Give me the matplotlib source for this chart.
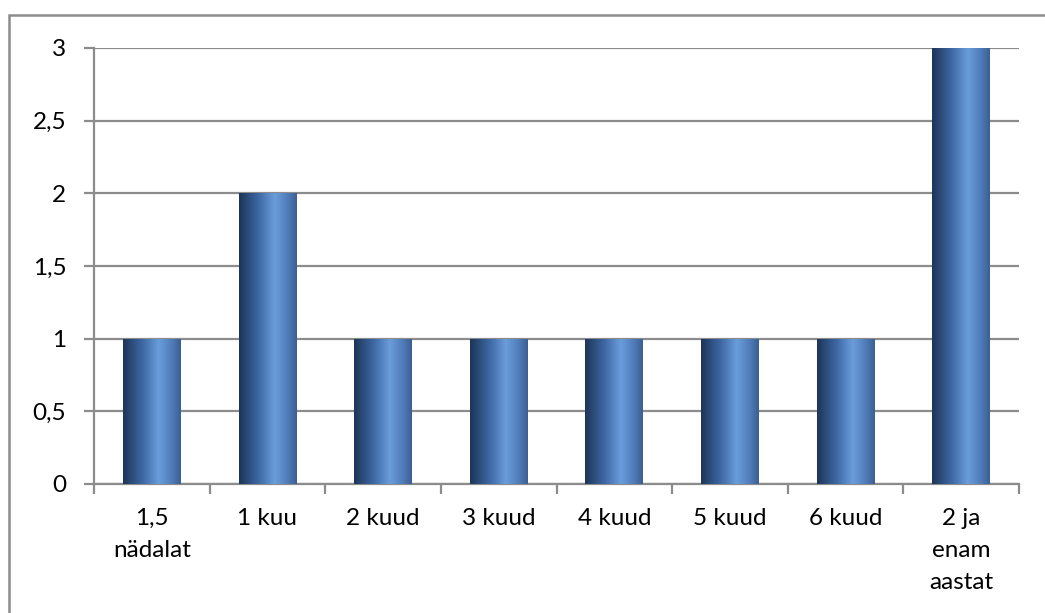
import numpy as np
import matplotlib.pyplot as plt
from matplotlib.colors import LinearSegmentedColormap
from matplotlib.patches import Rectangle

categories = ['1,5\nnädalat', '1 kuu', '2 kuud', '3 kuud', '4 kuud',
              '5 kuud', '6 kuud', '2 ja\nenam\naastat']
counts = [1, 2, 1, 1, 1, 1, 1, 3]
yticks = [0, 0.5, 1, 1.5, 2, 2.5, 3]
ytick_labels = ['0', '0,5', '1', '1,5', '2', '2,5', '3']

plt.rcParams['font.family'] = ['Lato', 'DejaVu Sans']

fig = plt.figure(figsize=(10.45, 6.13), dpi=100)
ax = fig.add_axes([94/1045, 1 - 484/613, (1019 - 94)/1045, (484 - 48)/613])

# outer chart frame (right and bottom edges fall outside the canvas)
fig.patches.append(Rectangle((9/1045, -0.05), 1.1, 1 - 15/613 + 0.05,
                             transform=fig.transFigure, fill=False,
                             edgecolor='#8c8c8c', linewidth=1.8))

x = np.arange(len(categories))
bars = ax.bar(x, counts, width=0.5, color='none', edgecolor='none', zorder=3)

# cylinder-like horizontal shading for each bar
shade = LinearSegmentedColormap.from_list(
    'shade', [(0.0, '#1d3557'), (0.35, '#3f6aa6'), (0.62, '#6b9ddb'),
              (0.85, '#4f7bb8'), (1.0, '#3b5f92')])
grad = np.linspace(0, 1, 256).reshape(1, -1)
for b in bars:
    x0, y0 = b.get_x(), b.get_y()
    w, h = b.get_width(), b.get_height()
    im = ax.imshow(grad, cmap=shade, aspect='auto', extent=(x0, x0 + w, y0, y0 + h),
                   zorder=3, interpolation='bicubic')
    im.set_clip_path(b)

ax.set_xlim(-0.5, len(categories) - 0.5)
ax.set_ylim(0, 3)

ax.set_yticks(yticks)
ax.set_yticklabels(ytick_labels)
ax.yaxis.grid(True, color='#8c8c8c', linewidth=1.6, zorder=0)
ax.set_axisbelow(True)

ax.set_xticks(x)
ax.set_xticklabels(categories, linespacing=1.65, va='top')
ax.set_xticks(np.arange(len(categories) + 1) - 0.5, minor=True)
ax.tick_params(axis='x', which='major', length=0, pad=17, labelsize=17.5)
ax.tick_params(axis='x', which='minor', length=7, width=1.6, color='#8c8c8c')
ax.tick_params(axis='y', length=7, width=1.6, color='#8c8c8c', pad=13, labelsize=17.5)

for side in ['top', 'right']:
    ax.spines[side].set_visible(False)
for side in ['left', 'bottom']:
    ax.spines[side].set_color('#8c8c8c')
    ax.spines[side].set_linewidth(1.6)

fig.savefig('out.png', dpi=100)
